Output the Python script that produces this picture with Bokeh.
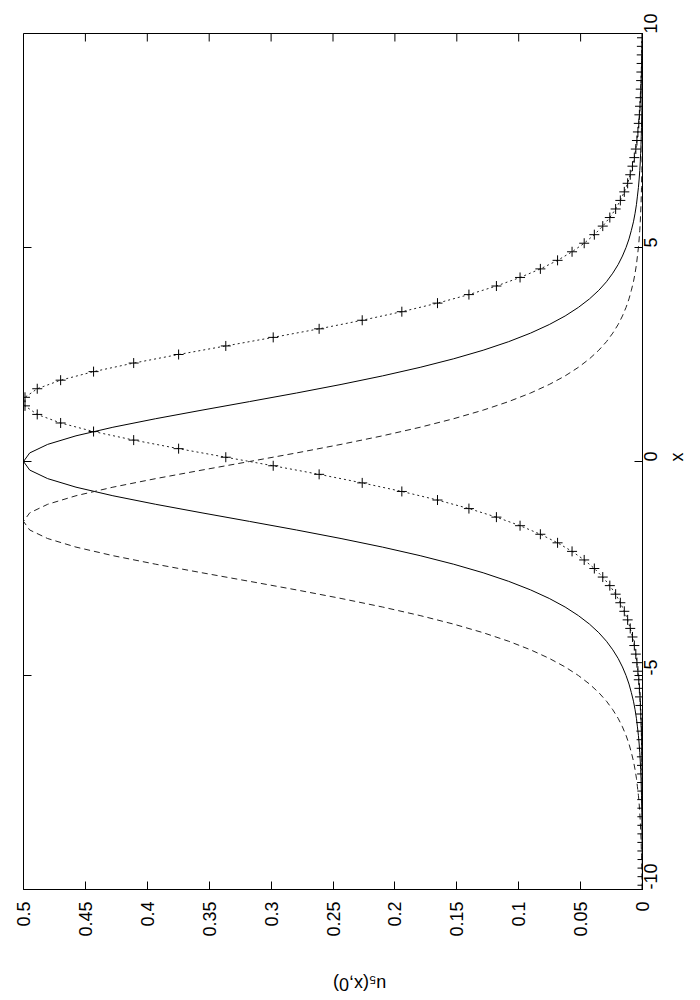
import math
from bokeh.plotting import figure
from bokeh.models import Range1d, LinearAxis, FixedTicker, CustomJSTickFormatter
from bokeh.embed import file_html
from bokeh.resources import INLINE

# ---- data ----
X_LINE = [-10.0, -9.8, -9.6, -9.4, -9.2, -9.0, -8.8, -8.6, -8.4, -8.2,
          -8.0, -7.8, -7.6, -7.4, -7.2, -7.0, -6.8, -6.6, -6.4, -6.2,
          -6.0, -5.8, -5.6, -5.4, -5.2, -5.0, -4.8, -4.6, -4.4, -4.2,
          -4.0, -3.8, -3.6, -3.4, -3.2, -3.0, -2.8, -2.6, -2.4, -2.2,
          -2.0, -1.8, -1.6, -1.4, -1.2, -1.0, -0.8, -0.6, -0.4, -0.2,
          0.0, 0.2, 0.4, 0.6, 0.8, 1.0, 1.2, 1.4, 1.6, 1.8,
          2.0, 2.2, 2.4, 2.6, 2.8, 3.0, 3.2, 3.4, 3.6, 3.8,
          4.0, 4.2, 4.4, 4.6, 4.8, 5.0, 5.2, 5.4, 5.6, 5.8,
          6.0, 6.2, 6.4, 6.6, 6.8, 7.0, 7.2, 7.4, 7.6, 7.8,
          8.0, 8.2, 8.4, 8.6, 8.8, 9.0, 9.2, 9.4, 9.6, 9.8, 10.0]

# solid curve (peak at x = 0)
U_SOLID = [0.0001, 0.0001, 0.0001, 0.0002, 0.0002, 0.0002, 0.0003, 0.0004, 0.0004, 0.0005,
           0.0007, 0.0008, 0.0010, 0.0012, 0.0015, 0.0018, 0.0022, 0.0027, 0.0033, 0.0041,
           0.0049, 0.0060, 0.0073, 0.0090, 0.0109, 0.0133, 0.0162, 0.0197, 0.0240, 0.0291,
           0.0353, 0.0428, 0.0518, 0.0625, 0.0753, 0.0904, 0.1081, 0.1287, 0.1525, 0.1796,
           0.2100, 0.2435, 0.2795, 0.3174, 0.3558, 0.3932, 0.4278, 0.4576, 0.4805, 0.4950,
           0.5000,
           0.4950, 0.4805, 0.4576, 0.4278, 0.3932, 0.3558, 0.3174, 0.2795, 0.2435, 0.2100,
           0.1796, 0.1525, 0.1287, 0.1081, 0.0904, 0.0753, 0.0625, 0.0518, 0.0428, 0.0353,
           0.0291, 0.0240, 0.0197, 0.0162, 0.0133, 0.0109, 0.0090, 0.0073, 0.0060, 0.0049,
           0.0041, 0.0033, 0.0027, 0.0022, 0.0018, 0.0015, 0.0012, 0.0010, 0.0008, 0.0007,
           0.0005, 0.0004, 0.0004, 0.0003, 0.0002, 0.0002, 0.0002, 0.0001, 0.0001, 0.0001]

# dashed curve (peak near x = -1.4)
U_DASHED = [0.0004, 0.0004, 0.0005, 0.0007, 0.0008, 0.0010, 0.0012, 0.0015, 0.0018, 0.0022,
            0.0027, 0.0033, 0.0041, 0.0049, 0.0060, 0.0073, 0.0090, 0.0109, 0.0133, 0.0162,
            0.0197, 0.0240, 0.0291, 0.0353, 0.0428, 0.0518, 0.0625, 0.0753, 0.0904, 0.1081,
            0.1287, 0.1525, 0.1796, 0.2100, 0.2435, 0.2795, 0.3174, 0.3558, 0.3932, 0.4278,
            0.4576, 0.4805, 0.4950, 0.5000, 0.4950, 0.4805, 0.4576, 0.4278, 0.3932, 0.3558,
            0.3174, 0.2795, 0.2435, 0.2100, 0.1796, 0.1525, 0.1287, 0.1081, 0.0904, 0.0753,
            0.0625, 0.0518, 0.0428, 0.0353, 0.0291, 0.0240, 0.0197, 0.0162, 0.0133, 0.0109,
            0.0090, 0.0073, 0.0060, 0.0049, 0.0041, 0.0033, 0.0027, 0.0022, 0.0018, 0.0015,
            0.0012, 0.0010, 0.0008, 0.0007, 0.0005, 0.0004, 0.0004, 0.0003, 0.0002, 0.0002,
            0.0002, 0.0001, 0.0001, 0.0001, 0.0001, 0.0001, 0.0001, 0.0000, 0.0000, 0.0000, 0.0000]

# dotted curve with + markers (peak near x = 1.4)
X_DOT = [-9.9, -9.7, -9.5, -9.3, -9.1, -8.9, -8.7, -8.5, -8.3, -8.1,
         -7.9, -7.7, -7.5, -7.3, -7.1, -6.9, -6.7, -6.5, -6.3, -6.1,
         -5.9, -5.7, -5.5, -5.3, -5.1, -4.9, -4.7, -4.5, -4.3, -4.1,
         -3.9, -3.7, -3.5, -3.3, -3.1, -2.9, -2.7, -2.5, -2.3, -2.1,
         -1.9, -1.7, -1.5, -1.3, -1.1, -0.9, -0.7, -0.5, -0.3, -0.1,
         0.1, 0.3, 0.5, 0.7, 0.9, 1.1, 1.3, 1.5, 1.7, 1.9,
         2.1, 2.3, 2.5, 2.7, 2.9, 3.1, 3.3, 3.5, 3.7, 3.9,
         4.1, 4.3, 4.5, 4.7, 4.9, 5.1, 5.3, 5.5, 5.7, 5.9,
         6.1, 6.3, 6.5, 6.7, 6.9, 7.1, 7.3, 7.5, 7.7, 7.9,
         8.1, 8.3, 8.5, 8.7, 8.9, 9.1, 9.3, 9.5, 9.7, 9.9]

U_DOT = [0.0000, 0.0000, 0.0000, 0.0000, 0.0001, 0.0001, 0.0001, 0.0001, 0.0001, 0.0001,
         0.0002, 0.0002, 0.0003, 0.0003, 0.0004, 0.0005, 0.0006, 0.0007, 0.0009, 0.0011,
         0.0014, 0.0017, 0.0020, 0.0025, 0.0030, 0.0037, 0.0045, 0.0054, 0.0066, 0.0081,
         0.0099, 0.0120, 0.0147, 0.0179, 0.0217, 0.0264, 0.0321, 0.0389, 0.0471, 0.0569,
         0.0686, 0.0825, 0.0989, 0.1180, 0.1402, 0.1656, 0.1944, 0.2264, 0.2612, 0.2983,
         0.3366, 0.3747, 0.4110, 0.4434, 0.4700, 0.4889, 0.4988,
         0.4988, 0.4889, 0.4700, 0.4434, 0.4110, 0.3747, 0.3366, 0.2983, 0.2612, 0.2264,
         0.1944, 0.1656, 0.1402, 0.1180, 0.0989, 0.0825, 0.0686, 0.0569, 0.0471, 0.0389,
         0.0321, 0.0264, 0.0217, 0.0179, 0.0147, 0.0120, 0.0099, 0.0081, 0.0066, 0.0054,
         0.0045, 0.0037, 0.0030, 0.0025, 0.0020, 0.0017, 0.0014, 0.0011, 0.0009, 0.0007,
         0.0006, 0.0005, 0.0004]

U_TICKS = [0, 0.05, 0.1, 0.15, 0.2, 0.25, 0.3, 0.35, 0.4, 0.45, 0.5]
X_TICKS = [-10, -5, 0, 5, 10]
U_LABEL = "u\u2085(x,0)"
X_LABEL = "x"

U_MAX, U_MIN = 0.5, 0.0
X_MIN, X_MAX = -10, 10

# ---- layout / style ----
FRAME_W, FRAME_H = 619, 856
TICK_LEN = 8
FONT = "Liberation Sans"
FSIZE = "18px"

p = figure(frame_width=FRAME_W, frame_height=FRAME_H,
           x_range=Range1d(U_MAX, U_MIN), y_range=Range1d(X_MIN, X_MAX),
           output_backend="svg", toolbar_location=None,
           x_axis_location=None, y_axis_location=None,
           min_border_left=23, min_border_right=56,
           min_border_top=33, min_border_bottom=108,
           background_fill_color="white", border_fill_color="white")
p.grid.grid_line_color = None
p.outline_line_color = "black"
p.outline_line_width = 1
p.outline_line_alpha = 1.0

fmt = CustomJSTickFormatter(code="return tick.toString();")


def style(ax):
    ax.major_tick_in = TICK_LEN
    ax.major_tick_out = 0
    ax.minor_tick_line_color = None
    ax.major_tick_line_color = "black"
    ax.axis_line_color = "black"
    ax.major_label_text_font = FONT
    ax.major_label_text_font_size = FSIZE
    ax.major_label_text_color = "black"
    ax.axis_label_text_font = FONT
    ax.axis_label_text_font_size = FSIZE
    ax.axis_label_text_font_style = "normal"
    ax.axis_label_text_color = "black"


bottom = LinearAxis(ticker=FixedTicker(ticks=U_TICKS), formatter=fmt, axis_label=U_LABEL)
style(bottom)
bottom.major_label_orientation = math.pi / 2
bottom.major_label_standoff = 12
bottom.axis_label_orientation = math.pi
bottom.axis_label_standoff = 44
p.add_layout(bottom, "below")

right = LinearAxis(ticker=FixedTicker(ticks=X_TICKS), formatter=fmt, axis_label=X_LABEL)
style(right)
right.major_label_orientation = math.pi / 2
right.major_label_standoff = 8
right.axis_label_orientation = math.pi / 2
right.axis_label_standoff = 10
p.add_layout(right, "right")

# mirrored inward ticks on the top and left frame edges
dy = TICK_LEN * (X_MAX - X_MIN) / FRAME_H
dx = TICK_LEN * (U_MAX - U_MIN) / FRAME_W
p.segment(x0=U_TICKS, y0=[X_MAX] * len(U_TICKS), x1=U_TICKS, y1=[X_MAX - dy] * len(U_TICKS),
          line_color="black", line_width=1)
p.segment(x0=[U_MAX] * len(X_TICKS), y0=X_TICKS, x1=[U_MAX - dx] * len(X_TICKS), y1=X_TICKS,
          line_color="black", line_width=1)

# curves: u is drawn horizontally, x vertically (rotated plot)
p.line(U_SOLID, X_LINE, line_color="black", line_width=1)
p.line(U_DASHED, X_LINE, line_color="#222222", line_width=1, line_dash="6 4")
p.line(U_DOT, X_DOT, line_color="#222222", line_width=1, line_dash="2 3")
p.scatter(U_DOT, X_DOT, marker="cross", size=10, line_color="black", line_width=1)

open("out.html", "w").write(file_html(p, INLINE))
